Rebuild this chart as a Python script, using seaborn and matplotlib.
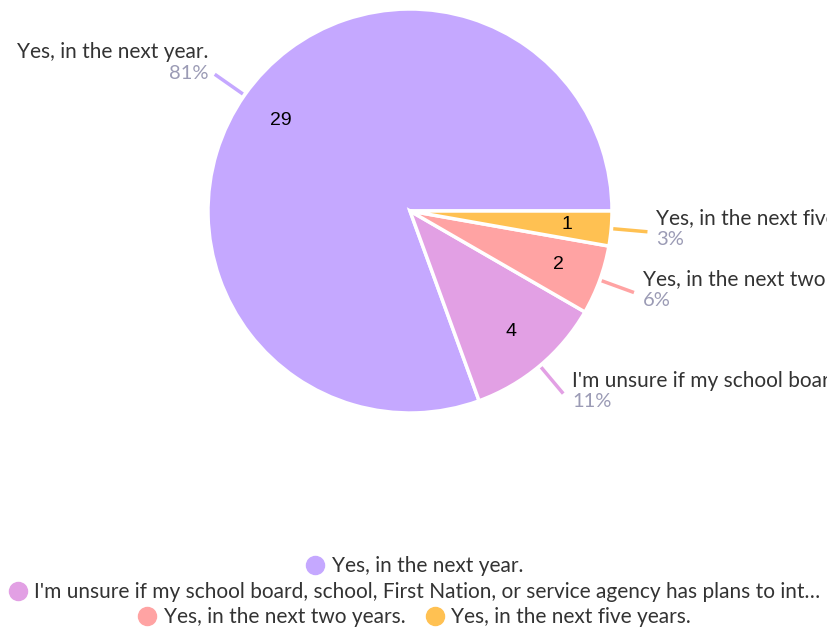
import numpy as np
import matplotlib
matplotlib.use('Agg')
import matplotlib.pyplot as plt
import seaborn as sns
from matplotlib.lines import Line2D

# survey answers, counts and slice colours
answers = [
    "Yes, in the next year.",
    "I'm unsure if my school board, school, First Nation, or service agency has plans to int\u2026",
    "Yes, in the next two years.",
    "Yes, in the next five years.",
]
counts = [29, 4, 2, 1]
colors = ['#C5A8FF', '#E2A0E4', '#FFA3A3', '#FFC152']

TEXT = '#333333'
PCT = '#9B9BB5'

sns.set_theme(style='white')
plt.rcParams['font.family'] = ['Lato', 'DejaVu Sans']

fig = plt.figure(figsize=(8.28, 6.28), dpi=100)
ax = fig.add_axes([0, 0, 1, 1])

cx, cy, R = 410, 417, 202
total = sum(counts)
wedges, _, autotexts = ax.pie(
    counts, colors=colors, center=(cx, cy), radius=R,
    startangle=0, counterclock=True,
    autopct=lambda p: f'{round(p * total / 100)}', pctdistance=0.78,
    wedgeprops=dict(edgecolor='white', linewidth=2.5),
    textprops=dict(fontsize=14, color='black', family=['Liberation Sans']),
)
ax.set_xlim(0, 828)
ax.set_ylim(0, 628)
ax.set_aspect('equal')
ax.axis('off')

# outer labels with leader lines
for w, name, c, col in zip(wedges, answers, counts, colors):
    t = np.deg2rad((w.theta1 + w.theta2) / 2)
    x1, y1 = cx + 1.01 * R * np.cos(t), cy + 1.01 * R * np.sin(t)
    x2, y2 = cx + 1.18 * R * np.cos(t), cy + 1.18 * R * np.sin(t)
    ax.plot([x1, x2], [y1, y2], color=col, lw=2.5, solid_capstyle='butt')
    if np.cos(t) < 0:
        ha, tx, dn, dp = 'right', x2 - 6, 22, 1
    else:
        ha, tx, dn, dp = 'left', x2 + 9, 13, -8
    ax.text(tx, y2 + dn, name, ha=ha, va='center', fontsize=15, color=TEXT)
    ax.text(tx, y2 + dp, f'{round(c / total * 100)}%', ha=ha, va='center',
            fontsize=14.5, color=PCT)

# legend in three centred rows
def handle(col):
    return Line2D([], [], marker='o', ls='', markersize=13,
                  markerfacecolor=col, markeredgecolor=col)

rows = [([0], 0.0987), ([1], 0.0573), ([2, 3], 0.0175)]
for idx, yy in rows:
    leg = fig.legend([handle(colors[i]) for i in idx], [answers[i] for i in idx],
                     loc='center', bbox_to_anchor=(0.5, yy), ncol=len(idx),
                     frameon=False, fontsize=15, handletextpad=0.3,
                     columnspacing=0.9, handlelength=1.0, borderpad=0)
    for txt in leg.get_texts():
        txt.set_color(TEXT)

fig.savefig('out.png', dpi=100)
